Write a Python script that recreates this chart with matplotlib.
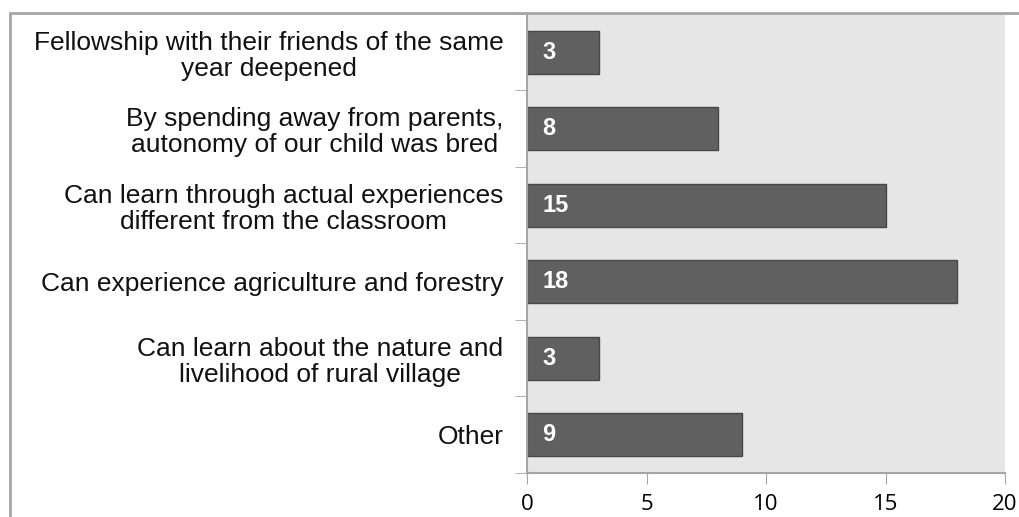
import matplotlib

matplotlib.use("Agg")
import matplotlib.pyplot as plt
from matplotlib.patches import Rectangle

# Survey answers, top to bottom as drawn
categories = [
    "Fellowship with their friends of the same\nyear deepened",
    "By spending away from parents,\nautonomy of our child was bred",
    "Can learn through actual experiences\ndifferent from the classroom",
    "Can experience agriculture and forestry",
    "Can learn about the nature and\nlivelihood of rural village",
    "Other",
]
counts = [3, 8, 15, 18, 3, 9]
xticks = [0, 5, 10, 15, 20]

fig = plt.figure(figsize=(10.19, 5.17), dpi=100)
ax = fig.add_axes([527 / 1019, 1 - 473 / 517, 478 / 1019, 459 / 517])

# chart frame around everything (clipped by the image edges)
fig.patches.append(Rectangle((10 / 1019, -0.1), 1.2, 1 - 13 / 517 + 0.1,
                             transform=fig.transFigure, fill=False,
                             edgecolor="#A6A6A6", linewidth=2))

ax.set_facecolor("#E6E6E6")
y = list(range(len(categories)))
ax.barh(y, counts, height=0.56, color="#606060", edgecolor="#474747", linewidth=1)

for yi, v in zip(y, counts):
    ax.text(0.65, yi, str(v), color="white", fontweight="bold", fontsize=17,
            va="center", ha="left", family="Liberation Sans")

ax.set_xlim(0, 20)
ax.set_ylim(len(categories) - 0.5, -0.5)
ax.set_xticks(xticks)
ax.set_xticklabels([str(t) for t in xticks], fontsize=16, family="Open Sans")
ax.set_yticks(y)
ax.set_yticklabels(categories, fontsize=19, family="Liberation Sans",
                   multialignment="center", linespacing=1.1, color="#111111")
ax.tick_params(axis="y", length=0, pad=17)
ax.set_yticks([i - 0.5 for i in range(len(categories) + 1)], minor=True)
ax.tick_params(axis="y", which="minor", length=9, color="#A6A6A6")
ax.tick_params(axis="x", length=8, color="#A6A6A6", pad=7)

for side in ("top", "right"):
    ax.spines[side].set_visible(False)
for side in ("left", "bottom"):
    ax.spines[side].set_color("#A6A6A6")
    ax.spines[side].set_linewidth(1.5)

fig.savefig("out.png", dpi=100)
